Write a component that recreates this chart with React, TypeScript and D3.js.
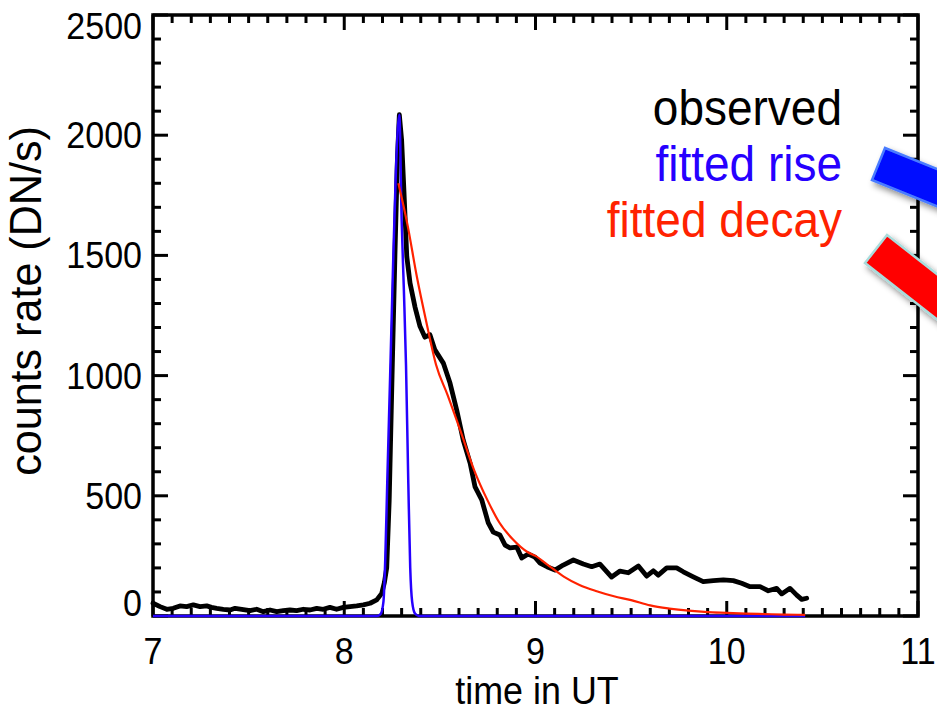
import React from 'react';
import * as d3 from 'd3';

const W = 937;
const H = 718;
const PLOT = { left: 153, right: 918, top: 15, bottom: 616 };

// observed light curve (time in UT hours, counts rate DN/s)
const obsTime = [
  7.0, 7.037, 7.072, 7.106, 7.141, 7.176, 7.211, 7.246, 7.281, 7.306, 7.333, 7.368, 7.403, 7.429,
  7.464, 7.507, 7.542, 7.577, 7.612, 7.647, 7.681, 7.716, 7.751, 7.786, 7.821, 7.856, 7.89, 7.925,
  7.96, 7.995, 8.03, 8.065, 8.1, 8.135, 8.17, 8.196, 8.21, 8.222, 8.235, 8.25, 8.265, 8.278, 8.288,
  8.3, 8.312, 8.327, 8.344, 8.37, 8.396, 8.422, 8.448, 8.474, 8.518, 8.553, 8.588, 8.622, 8.658,
  8.684, 8.719, 8.753, 8.779, 8.814, 8.841, 8.867, 8.902, 8.928, 8.962, 8.997, 9.024, 9.06, 9.102,
  9.145, 9.198, 9.25, 9.294, 9.337, 9.398, 9.442, 9.485, 9.538, 9.581, 9.616, 9.642, 9.686, 9.738,
  9.773, 9.825, 9.877, 9.93, 9.982, 10.034, 10.078, 10.122, 10.174, 10.217, 10.261, 10.287, 10.331,
  10.366, 10.392, 10.418,
];
const obsCounts = [
  53, 39, 28, 32, 42, 39, 46, 39, 42, 36, 32, 28, 25, 32,
  28, 22, 28, 18, 25, 18, 22, 25, 22, 28, 25, 32, 28, 36,
  28, 36, 39, 42, 46, 53, 67, 94, 140, 200, 480, 1000, 1500, 1900, 2085,
  1980, 1770, 1495, 1385, 1285, 1205, 1160, 1170, 1107, 1052, 969, 857, 732, 636,
  537, 483, 387, 349, 337, 295, 283, 287, 241, 258, 245, 220, 205, 191,
  212, 233, 216, 205, 216, 162, 187, 180, 208, 166, 188, 170, 200, 200,
  184, 163, 143, 147, 150, 147, 136, 122, 122, 105, 115, 92, 115,
  87, 69, 74,
];

// fitted rise (Gaussian-like rise profile)
const riseTime = [7.0, 8.17, 8.19, 8.205, 8.215, 8.225, 8.24, 8.255, 8.27, 8.288, 8.3, 8.312, 8.323, 8.335, 8.345, 8.355, 8.37, 8.39, 10.41];
const riseCounts = [0, 0, 8, 60, 250, 560, 1000, 1450, 1850, 2085, 1650, 1350, 1040, 550, 200, 60, 10, 0, 0];

// fitted decay
const decayTime = [8.283, 8.33, 8.38, 8.43, 8.48, 8.54, 8.61, 8.68, 8.75, 8.81, 8.88, 8.96, 9.0, 9.06, 9.15, 9.23, 9.32, 9.41, 9.5, 9.6, 9.7, 9.8, 9.9, 10.0, 10.1, 10.2, 10.3, 10.41];
const decayCounts = [1800, 1630, 1410, 1220, 1045, 920, 765, 605, 480, 390, 320, 265, 250, 215, 163, 129, 103, 82, 66, 44, 31, 22, 16, 13, 10, 8, 6, 5];

const xTicks = [7, 8, 9, 10, 11];
const yTicks = [0, 500, 1000, 1500, 2000, 2500];
const legendLabels = ['observed', 'fitted rise', 'fitted decay'];
const legendColors = ['#000000', '#2600ff', '#ff2200'];

const FONT = '"Liberation Sans", Arial, Helvetica, sans-serif';
const SX = 0.92;

function Txt({ x, y, size, fill = '#000', anchor = 'start', rotate = 0, sx = SX, children }: any) {
  return (
    <text
      transform={`translate(${x},${y})${rotate ? ` rotate(${rotate})` : ''} scale(${sx},1)`}
      fontFamily={FONT}
      fontSize={size}
      fill={fill}
      textAnchor={anchor}
    >
      {children}
    </text>
  );
}

export default function App() {
  const x = d3.scaleLinear().domain([7, 11]).range([PLOT.left, PLOT.right]);
  const y = d3.scaleLinear().domain([0, 2500]).range([PLOT.bottom, PLOT.top]);

  const obs = obsTime.map((t, i) => [t, obsCounts[i]] as [number, number]);
  const rise = riseTime.map((t, i) => [t, riseCounts[i]] as [number, number]);
  const decay = decayTime.map((t, i) => [t, decayCounts[i]] as [number, number]);

  const lineLin = d3.line<[number, number]>().x((d) => x(d[0])).y((d) => y(d[1]));
  const lineSmooth = d3
    .line<[number, number]>()
    .x((d) => x(d[0]))
    .y((d) => y(d[1]))
    .curve(d3.curveMonotoneX);

  const xMinor = d3.range(70, 111).map((v) => v / 10);
  const yMinor = d3.range(0, 2501, 100);

  const axisW = 3.5;
  const tickW = 3;
  const majorLen = 15;
  const minorLen = 8;

  const isMajorX = (v: number) => Math.abs(v - Math.round(v)) < 1e-6;
  const isMajorY = (v: number) => v % 500 === 0;

  return (
    <svg width={W} height={H} style={{ position: 'absolute', left: 0, top: 0, background: '#fff' }}>
      <defs>
        <filter id="shadow" x="-30%" y="-50%" width="180%" height="220%">
          <feDropShadow dx="3" dy="4" stdDeviation="3" floodColor="#000" floodOpacity="0.45" />
        </filter>
      </defs>
      <rect x={0} y={0} width={W} height={H} fill="#fff" />

      {/* ticks */}
      {xMinor.map((v, i) => {
        const len = isMajorX(v) ? majorLen : minorLen;
        return (
          <g key={'xt' + i} stroke="#000" strokeWidth={tickW}>
            <line x1={x(v)} x2={x(v)} y1={PLOT.bottom} y2={PLOT.bottom - len} />
            <line x1={x(v)} x2={x(v)} y1={PLOT.top} y2={PLOT.top + len} />
          </g>
        );
      })}
      {yMinor.map((v, i) => {
        const len = isMajorY(v) ? majorLen : minorLen;
        return (
          <g key={'yt' + i} stroke="#000" strokeWidth={tickW}>
            <line x1={PLOT.left} x2={PLOT.left + len} y1={y(v)} y2={y(v)} />
            <line x1={PLOT.right} x2={PLOT.right - len} y1={y(v)} y2={y(v)} />
          </g>
        );
      })}
      {/* frame */}
      <rect
        x={PLOT.left}
        y={PLOT.top}
        width={PLOT.right - PLOT.left}
        height={PLOT.bottom - PLOT.top}
        fill="none"
        stroke="#000"
        strokeWidth={axisW}
      />

      {/* tick labels */}
      {xTicks.map((v) => (
        <Txt key={'xl' + v} x={x(v)} y={664} size={37} anchor="middle">
          {v}
        </Txt>
      ))}
      {yTicks.map((v) => {
        const nudge = v === 0 ? -13 : v === 2500 ? 11 : 0;
        return (
          <Txt key={'yl' + v} x={142} y={y(v) + 13 + nudge} size={37} anchor="end">
            {v}
          </Txt>
        );
      })}

      {/* axis titles */}
      <Txt x={537} y={704} size={39} anchor="middle">
        time in UT
      </Txt>
      <Txt x={41} y={301} size={44} anchor="middle" rotate={-90} sx={0.98}>
        counts rate (DN/s)
      </Txt>

      {/* data */}
      <path d={lineLin(obs) || ''} fill="none" stroke="#000" strokeWidth={4.8} strokeLinejoin="round" strokeLinecap="round" />
      <path d={lineSmooth(rise) || ''} fill="none" stroke={legendColors[1]} strokeWidth={2.5} />
      <path d={lineSmooth(decay) || ''} fill="none" stroke={legendColors[2]} strokeWidth={2.2} />

      {/* legend */}
      {legendLabels.map((l, i) => (
        <Txt key={l} x={842} y={125 + i * 56} size={50} fill={legendColors[i]} anchor="end">
          {l}
        </Txt>
      ))}

      {/* annotation arrows (tails) */}
      <polygon
        points="885,148 872,180 964.7,217.5 977.7,185.5"
        fill="#0008ff"
        stroke="#4a7cff"
        strokeWidth={2.5}
        filter="url(#shadow)"
      />
      <polygon
        points="887,235 865,263 943.8,324.6 965.8,296.6"
        fill="#ff0000"
        stroke="#a9dcdc"
        strokeWidth={2.5}
        filter="url(#shadow)"
      />
    </svg>
  );
}
